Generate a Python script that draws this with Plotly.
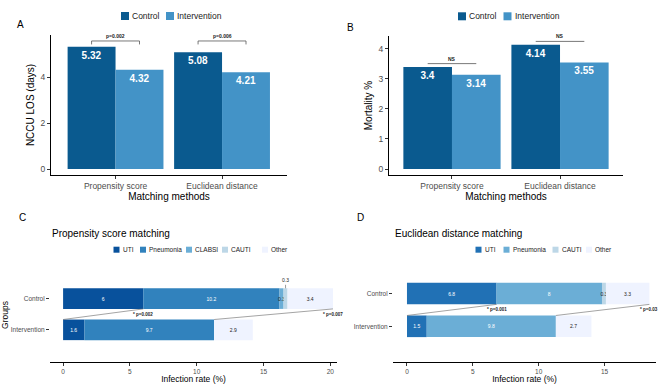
import plotly.graph_objects as go

# ---------------- data ----------------
methods = ["Propensity score", "Euclidean distance"]
arms = ["Control", "Intervention"]
los_control = [5.32, 5.08]
los_intervention = [4.32, 4.21]
los_p = ["p=0.002", "p=0.006"]
mort_control = [3.4, 4.14]
mort_intervention = [3.14, 3.55]
mort_p = ["NS", "NS"]

groups = ["Control", "Intervention"]
ps_types = ["UTI", "Pneumonia", "CLABSI", "CAUTI", "Other"]
ps_control = [6, 10.2, 0.3, 0.3, 3.4]
ps_intervention = [1.6, 9.7, 0, 0, 2.9]
ps_p = ["* p=0.002", "* p=0.007"]
ps_callout = ["CAUTI"]
ed_types = ["UTI", "Pneumonia", "CAUTI", "Other"]
ed_control = [6.8, 8, 0.3, 3.3]
ed_intervention = [1.5, 9.8, 0, 2.7]
ed_p = ["* p=0.001", "* p=0.03"]
ed_callout = []

# ---------------- style ----------------
W, H = 662, 384
FONT = "Liberation Sans, Arial, sans-serif"
arm_colors = ["#0a5a8f", "#4393c7"]
ps_colors = ["#08519c", "#3182bd", "#6baed6", "#bdd7e7", "#eff3ff"]
ed_colors = ["#2171b5", "#6baed6", "#bdd7e7", "#eff3ff"]
ps_textcol = ["white", "white", "#222", "#222", "#222"]
ed_textcol = ["white", "white", "#222", "#222"]
TICKC = "#4d4d4d"
BARGAP = 0.1
HBAR_W = 0.66


def fx(p):
    return p / W


def fy(p):
    return 1 - p / H


fig = go.Figure()
shapes = []
annotations = []

# ---------- panels A & B: grouped bars ----------
panelsAB = [
    ("x", "y", los_control, los_intervention, los_p, "bracket"),
    ("x2", "y2", mort_control, mort_intervention, mort_p, "line"),
]
for xa, ya, ctrl, intv, pv, kind in panelsAB:
    for name, vals, col in zip(arms, [ctrl, intv], arm_colors):
        fig.add_trace(go.Bar(
            x=methods, y=vals, name=name, marker_color=col,
            marker_line_width=0,
            texttemplate="<b>%{y}</b>", textposition="inside",
            insidetextanchor="end",
            textfont=dict(color="white", size=10, family=FONT),
            xaxis=xa, yaxis=ya, showlegend=False,
        ))
    off = (1 - BARGAP) / 4
    top_all = max(ctrl + intv)
    for i, p in enumerate(pv):
        if kind == "bracket":
            yb = top_all + 0.25
            shapes.append(dict(type="path", xref=xa, yref=ya,
                               path=f"M {i-off},{yb-0.15} L {i-off},{yb} L {i+off},{yb} L {i+off},{yb-0.15}",
                               line=dict(color="#555", width=0.8)))
        else:
            yb = max(ctrl[i], intv[i]) + 0.11
            shapes.append(dict(type="line", xref=xa, yref=ya,
                               x0=i - off, x1=i + off, y0=yb, y1=yb,
                               line=dict(color="#555", width=0.8)))
        annotations.append(dict(xref=xa, yref=ya, x=i, y=yb, text=f"<b>{p}</b>",
                                showarrow=False, yanchor="bottom", yshift=0,
                                font=dict(size=5, color="#222", family=FONT)))

# ---------- panels C & D: stacked horizontal bars ----------
panelsCD = [
    ("x3", "y3", ps_types, ps_control, ps_intervention, ps_colors, ps_textcol, ps_p, ps_callout),
    ("x4", "y4", ed_types, ed_control, ed_intervention, ed_colors, ed_textcol, ed_p, ed_callout),
]
for xa, ya, types, ctrl, intv, cols, tcols, pv, callout in panelsCD:
    base_c, base_i = 0, 0
    for t, vc, vi, col, tc in zip(types, ctrl, intv, cols, tcols):
        txt = []
        for v in (vc, vi):
            if v == 0 or t in callout:
                txt.append("")
            else:
                txt.append(f"{v:g}")
        fig.add_trace(go.Bar(
            y=groups, x=[vc, vi], base=[base_c, base_i], orientation="h",
            width=HBAR_W, offset=-HBAR_W / 2, name=t,
            marker=dict(color=col, line=dict(width=0)),
            text=txt, textposition="inside", insidetextanchor="middle",
            constraintext="none", textangle=0,
            textfont=dict(size=5, color=tc, family=FONT),
            xaxis=xa, yaxis=ya, showlegend=False,
        ))
        if t in callout and vc:
            annotations.append(dict(xref=xa, yref=ya, x=base_c + vc / 2, y=1 + HBAR_W / 2,
                                    text=f"{vc:g}", showarrow=True, arrowhead=0,
                                    arrowwidth=0.6, arrowcolor="#555", ax=0, ay=-8,
                                    font=dict(size=5, color="#222", family=FONT)))
        base_c += vc
        base_i += vi
    # connector lines (Intervention index 0, Control index 1)
    seg = [(0, ctrl[0]), (intv[0] + intv[1], sum(ctrl))]
    for (x_int, x_ctl), p in zip(seg, pv):
        shapes.append(dict(type="line", xref=xa, yref=ya,
                           x0=x_int, y0=0 + HBAR_W / 2, x1=x_ctl, y1=1 - HBAR_W / 2,
                           line=dict(color="#666", width=0.6)))
        annotations.append(dict(xref=xa, yref=ya, x=x_ctl, y=0.5, text=f"<b>{p}</b>",
                                showarrow=False, xanchor="center",
                                font=dict(size=4.5, color="#222", family=FONT)))

# ---------- manual legends ----------
legends = [
    (arms, arm_colors, [121, 166], 16, 8, 8.5),
    (arms, arm_colors, [458, 503.5], 16.3, 8, 8.5),
    (ps_types, ps_colors, [113.5, 140, 186, 222, 262], 249.7, 6, 6.5),
    (ed_types, ed_colors, [475.5, 503.5, 552.5, 586], 249.7, 6, 6.5),
]
for names, cols, xs, yc, sw, fs in legends:
    for n, c, x0 in zip(names, cols, xs):
        shapes.append(dict(type="rect", xref="paper", yref="paper",
                           x0=fx(x0), x1=fx(x0 + sw), y0=fy(yc + sw / 2), y1=fy(yc - sw / 2),
                           fillcolor=c, line=dict(width=0)))
        annotations.append(dict(xref="paper", yref="paper", x=fx(x0 + sw + 2), y=fy(yc),
                                text=n, showarrow=False, xanchor="left", yanchor="middle",
                                borderpad=0,
                                font=dict(size=fs, color="#222", family=FONT)))

# ---------- panel letters & titles ----------
for t, x, y in [("A", 15, 17), ("B", 350, 20.5), ("C", 17, 217), ("D", 360, 217)]:
    annotations.append(dict(xref="paper", yref="paper", x=fx(x), y=fy(y), text=t,
                            showarrow=False, font=dict(size=10, color="black", family=FONT)))
for t, x in [("Propensity score matching", 49.5), ("Euclidean distance matching", 393)]:
    annotations.append(dict(xref="paper", yref="paper", x=fx(x), y=fy(233), text=t,
                            showarrow=False, xanchor="left",
                            font=dict(size=10, color="black", family=FONT)))

axis_common = dict(showgrid=False, zeroline=False, showline=True, linecolor="black",
                   linewidth=1, ticks="outside", ticklen=3, tickcolor="#333",
                   automargin=False,
                   tickfont=dict(size=8.5, color=TICKC, family=FONT))


def ax(**kw):
    d = dict(axis_common)
    d.update(kw)
    return d


title_font = dict(size=10, color="black", family=FONT)
small_title = dict(size=8.5, color="black", family=FONT)

fig.update_layout(
    width=W, height=H, margin=dict(l=0, r=0, t=0, b=0, autoexpand=False),
    paper_bgcolor="white", plot_bgcolor="white",
    barmode="group", bargap=BARGAP, bargroupgap=0,
    font=dict(family=FONT),
    shapes=shapes, annotations=annotations,
    xaxis=ax(domain=[fx(51), fx(287)], anchor="y", type="category",
             range=[-0.606, 1.61],
             title=dict(text="Matching methods", font=title_font, standoff=0)),
    yaxis=ax(domain=[fy(175), fy(35)], anchor="x", range=[-0.26, 5.83],
             tickvals=[0, 2, 4],
             title=dict(text="NCCU LOS (days)", font=title_font, standoff=4)),
    xaxis2=ax(domain=[fx(389), fx(623)], anchor="y2", type="category",
              range=[-0.583, 1.583],
              title=dict(text="Matching methods", font=title_font, standoff=0)),
    yaxis2=ax(domain=[fy(175), fy(36)], anchor="x2", range=[-0.2, 4.43],
              tickvals=[0, 1, 2, 3, 4],
              title=dict(text="Mortality %", font=title_font, standoff=4)),
    xaxis3=ax(domain=[fx(50), fx(337)], anchor="y3", range=[-0.98, 20.5],
              tickvals=[0, 5, 10, 15, 20],
              tickfont=dict(size=6.5, color=TICKC, family=FONT),
              title=dict(text="Infection rate (%)", font=small_title, standoff=0)),
    yaxis3=ax(domain=[fy(362), fy(268)], anchor="x3", type="category",
              categoryorder="array", categoryarray=["Intervention", "Control"],
              range=[-1.03, 1.98], showline=False,
              tickfont=dict(size=6.5, color=TICKC, family=FONT),
              title=dict(text="Groups", font=small_title, standoff=4)),
    xaxis4=ax(domain=[fx(393), fx(656)], anchor="y4", range=[-1.06, 18.9],
              tickvals=[0, 5, 10, 15],
              tickfont=dict(size=6.5, color=TICKC, family=FONT),
              title=dict(text="Infection rate (%)", font=small_title, standoff=0)),
    yaxis4=ax(domain=[fy(362), fy(268)], anchor="x4", type="category",
              categoryorder="array", categoryarray=["Intervention", "Control"],
              range=[-1.09, 1.78], showline=False,
              tickfont=dict(size=6.5, color=TICKC, family=FONT)),
)

fig.write_html("out.html", config={"displayModeBar": False},
               post_script="document.body.style.margin='0';document.body.style.padding='0';")
